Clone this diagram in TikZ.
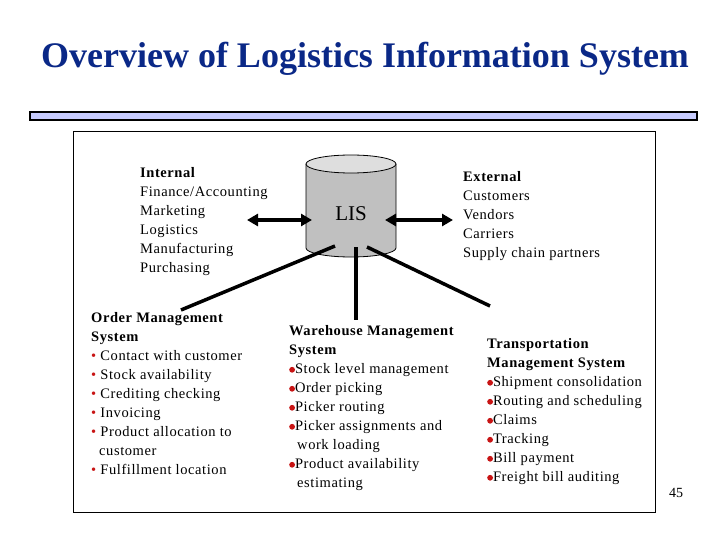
\documentclass[tikz,border=0pt]{standalone}
\usepackage{fontspec}
\setmainfont{Liberation Serif}
\newfontfamily\bodyfont[LetterSpace=4]{Liberation Serif}
\usetikzlibrary{arrows.meta}
\definecolor{titleblue}{RGB}{10,40,135}
\definecolor{barfill}{RGB}{200,204,255}
\definecolor{bulletred}{RGB}{200,20,20}
\definecolor{cylbody}{RGB}{192,192,192}
\definecolor{cyltop}{RGB}{222,222,222}
\newcommand{\smb}{{\color{bulletred}\textbullet}\ }
\newcommand{\bgb}{\tikz[baseline=-3.5pt]\fill[bulletred] (0,0) circle (2.9pt);}
\tikzset{
  txt/.style={anchor=north west, inner sep=0pt, align=left, font=\bodyfont\fontsize{14.5}{19}\selectfont},
  dblarrow/.style={line width=3.5pt, {Triangle[length=11pt,width=12pt]}-{Triangle[length=11pt,width=12pt]}},
  spoke/.style={line width=3.5pt},
}
\begin{document}
\begin{tikzpicture}[x=1pt,y=-1pt]
\useasboundingbox (0,0) rectangle (720,540);
\node[font=\bfseries\fontsize{36}{40}\selectfont, text=titleblue, inner sep=0pt, anchor=base] (title) at (365,68) {Overview of Logistics Information System};
\draw[line width=2.5pt, fill=barfill] (30,112) rectangle (697,120);
\draw[line width=1pt] (73,132) rectangle (655,512);
% cylinder
\fill[cylbody] (306,164) -- (306,248) arc[start angle=180, end angle=360, x radius=45, y radius=-9] -- (396,164) -- cycle;
\draw[line width=0.8pt] (306,164) -- (306,248) arc[start angle=180, end angle=360, x radius=45, y radius=-9] -- (396,164);
\draw[line width=0.8pt, fill=cyltop] (351,164) ellipse[x radius=45, y radius=9];
\node[font=\fontsize{21}{24}\selectfont, inner sep=0pt, anchor=base] (lis) at (351,221) {LIS};
\node[txt] (internal) at (140,167) {\textbf{Internal}\\Finance/Accounting\\Marketing\\Logistics\\Manufacturing\\Purchasing};
\node[txt] (external) at (463,171) {\textbf{External}\\Customers\\Vendors\\Carriers\\Supply chain partners};
\node[txt] (oms) at (91,312) {\textbf{Order Management}\\\textbf{System}\\\smb Contact with customer\\\smb Stock availability\\\smb Crediting checking\\\smb Invoicing\\\smb Product allocation to\\\hspace*{8pt}customer\\\smb Fulfillment location};
\node[txt] (wms) at (289,325) {\textbf{Warehouse Management}\\\textbf{System}\\\bgb Stock level management\\\bgb Order picking\\\bgb Picker routing\\\bgb Picker assignments and\\\hspace*{8pt}work loading\\\bgb Product availability\\\hspace*{8pt}estimating};
\node[txt] (tms) at (487,338) {\textbf{Transportation}\\\textbf{Management System}\\\bgb Shipment consolidation\\\bgb Routing and scheduling\\\bgb Claims\\\bgb Tracking\\\bgb Bill payment\\\bgb Freight bill auditing};
\node[font=\fontsize{14}{16}\selectfont, inner sep=0pt, anchor=base] (page) at (676,497) {45};
\coordinate (la) at (247,220);
\coordinate (lb) at (312,220);
\coordinate (ra) at (385,220);
\coordinate (rb) at (453,220);
\draw[dblarrow] (la) -- (lb);
\draw[dblarrow] (ra) -- (rb);
\coordinate (s1a) at (335,246);
\coordinate (s1b) at (181,310);
\coordinate (s2a) at (356,247);
\coordinate (s2b) at (356,320);
\coordinate (s3a) at (367,247);
\coordinate (s3b) at (490,306);
\draw[spoke] (s1a) -- (s1b);
\draw[spoke] (s2a) -- (s2b);
\draw[spoke] (s3a) -- (s3b);
\end{tikzpicture}
\end{document}
